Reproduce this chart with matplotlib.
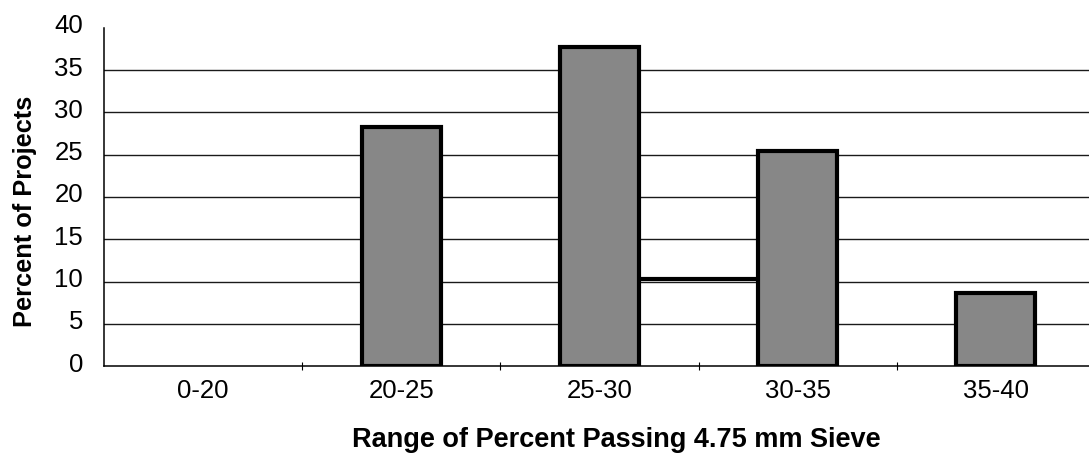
import matplotlib
matplotlib.use("Agg")
import matplotlib.pyplot as plt
import matplotlib.transforms as mtransforms
import numpy as np

# Share of projects by percent passing the 4.75 mm sieve
categories = ["0-20", "20-25", "25-30", "30-35", "35-40"]
percent_projects = [0.0, 28.3, 37.8, 25.4, 8.6]
# level of the connecting segment drawn between the 25-30 and 30-35 bars
connector_level = 10.3
y_ticks = [0, 5, 10, 15, 20, 25, 30, 35, 40]

plt.rcParams["font.family"] = ["Liberation Sans", "DejaVu Sans"]

fig = plt.figure(figsize=(10.89, 4.59), dpi=100)
ax = fig.add_axes([104 / 1089, 93 / 459, 985 / 1089, 338 / 459])

x = np.arange(len(categories))
bar_width = 0.40
values = np.array(percent_projects)
shown = values > 0
ax.bar(x[shown], values[shown], width=bar_width, color="#878787",
       edgecolor="black", linewidth=3.0, zorder=3)

# connector between the right edge of the 25-30 bar and the left edge of the 30-35 bar
ax.hlines(connector_level, x[2] + bar_width / 2, x[3] - bar_width / 2,
          colors="black", linewidth=3.0, zorder=3)

ax.set_xlim(-0.5, 4.47)
ax.set_ylim(0, 40)
ax.set_yticks(y_ticks)
ax.set_xticks(x)
ax.set_xticklabels(categories)
ax.set_xticks(x[:-1] + 0.5, minor=True)

# horizontal grid lines at 5..35
for yv in y_ticks[1:-1]:
    ax.axhline(yv, color="#1a1a1a", linewidth=1.0, zorder=1)

for side in ("top", "right"):
    ax.spines[side].set_visible(False)
ax.spines["left"].set_linewidth(1.1)
ax.spines["bottom"].set_linewidth(1.1)

ax.tick_params(axis="y", length=0, pad=15, labelsize=18.5)
ax.tick_params(axis="x", which="major", length=0, pad=9, labelsize=18.5)
ax.tick_params(axis="x", which="minor", length=6, width=0.8, direction="inout")

# y tick labels sit slightly above their grid lines
offset = mtransforms.ScaledTranslation(0, 4 / 100, fig.dpi_scale_trans)
for lbl in ax.get_yticklabels():
    lbl.set_transform(lbl.get_transform() + offset)

fig.text(25 / 1089, 1 - 211 / 459, "Percent of Projects", rotation=90,
         ha="center", va="center", fontsize=18.3, fontweight="bold")
fig.text(616 / 1089, 1 - 440 / 459, "Range of Percent Passing 4.75 mm Sieve",
         ha="center", va="center", fontsize=19.5, fontweight="bold")

fig.savefig("out.png", dpi=100, facecolor="white")
